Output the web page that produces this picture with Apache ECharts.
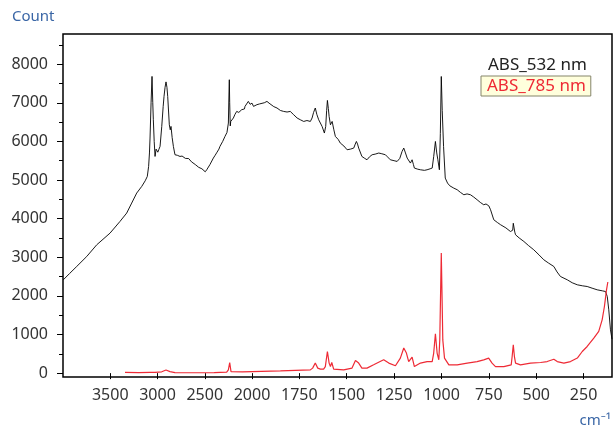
<!DOCTYPE html>
<html><head><meta charset="utf-8">
<script src="https://cdn.jsdelivr.net/npm/echarts@6/dist/echarts.min.js"></script>
<style>html,body{margin:0;padding:0;background:#fff}#c{width:613px;height:431px}</style>
</head><body><div id="c"></div>
<script>
const seriesNames = ['ABS_532 nm', 'ABS_785 nm'];
// [wavenumber cm-1, count]
const abs532 = [[3997,2416],[3930,2580],[3855,2761],[3749,3020],[3643,3323],[3502,3626],[3397,3927],[3326,4144],[3273,4403],[3220,4662],[3167,4833],[3130,4980],[3108,5092],[3094,5351],[3085,5700],[3079,6087],[3068,7000],[3058,7682],[3050,7000],[3044,6560],[3035,6000],[3026,5610],[3015,5800],[3008,5827],[2997,5720],[2987,5783],[2973,5870],[2955,6387],[2940,6900],[2931,7164],[2920,7400],[2910,7540],[2900,7400],[2892,7164],[2875,6430],[2865,6300],[2857,6387],[2845,6100],[2832,5870],[2815,5654],[2800,5690],[2790,5640],[2775,5660],[2762,5610],[2740,5620],[2720,5590],[2705,5560],[2690,5540],[2670,5555],[2656,5524],[2640,5470],[2620,5430],[2600,5400],[2586,5351],[2565,5330],[2550,5300],[2530,5290],[2515,5265],[2495,5213],[2479,5265],[2445,5400],[2409,5568],[2390,5640],[2370,5720],[2350,5800],[2339,5870],[2310,6000],[2286,6128],[2265,6230],[2257,6258],[2250,6475],[2244,7200],[2240,7596],[2236,7000],[2230,6400],[2225,6516],[2210,6560],[2197,6605],[2180,6700],[2170,6680],[2162,6776],[2150,6740],[2140,6750],[2125,6800],[2109,6820],[2090,6860],[2080,6840],[2074,6906],[2055,6950],[2039,7035],[2030,6990],[2020,6960],[2000,6990],[1992,6906],[1974,6950],[1960,6970],[1950,6990],[1935,7000],[1921,7035],[1910,6990],[1903,6950],[1885,6900],[1868,6864],[1850,6800],[1840,6820],[1833,6776],[1815,6760],[1798,6776],[1780,6690],[1770,6640],[1762,6605],[1745,6560],[1735,6580],[1727,6516],[1710,6540],[1692,6516],[1683,6605],[1675,6750],[1666,6864],[1658,6700],[1648,6560],[1630,6387],[1618,6216],[1611,6387],[1606,6800],[1602,7060],[1597,6850],[1593,6646],[1586,6430],[1577,6516],[1568,6300],[1560,6128],[1545,6050],[1534,5957],[1515,5880],[1498,5783],[1480,5800],[1463,5827],[1455,5930],[1449,5998],[1443,5930],[1437,5827],[1420,5610],[1405,5560],[1393,5524],[1380,5600],[1366,5654],[1350,5670],[1340,5640],[1331,5698],[1315,5680],[1296,5654],[1285,5600],[1270,5524],[1250,5500],[1234,5481],[1220,5560],[1208,5740],[1199,5827],[1190,5700],[1181,5568],[1164,5439],[1155,5524],[1148,5400],[1143,5309],[1125,5280],[1111,5265],[1090,5250],[1076,5265],[1060,5290],[1049,5309],[1041,5610],[1032,5998],[1025,5700],[1019,5524],[1011,5265],[1006,6200],[1001,7680],[996,6800],[989,5870],[980,5050],[968,4920],[956,4850],[935,4790],[917,4748],[900,4680],[882,4618],[865,4640],[847,4618],[830,4560],[812,4489],[795,4420],[777,4359],[765,4380],[759,4403],[750,4330],[741,4230],[724,3971],[705,3900],[688,3842],[660,3760],[636,3667],[624,3700],[621,3880],[618,3860],[613,3650],[609,3582],[590,3500],[565,3408],[540,3300],[513,3194],[485,3060],[460,2935],[435,2850],[407,2761],[390,2620],[372,2502],[336,2416],[310,2340],[283,2287],[255,2260],[231,2243],[205,2200],[178,2157],[150,2130],[134,2113],[125,1984],[117,1640],[108,1121],[100,880]];
const abs785 = [[3344,20],[3200,15],[3079,20],[3058,50],[3026,20],[2955,35],[2910,80],[2868,40],[2815,15],[2620,10],[2400,15],[2268,25],[2250,85],[2236,275],[2222,40],[2100,35],[2000,40],[1850,60],[1692,85],[1680,130],[1666,260],[1653,130],[1639,105],[1622,105],[1613,170],[1602,560],[1593,260],[1586,170],[1579,275],[1569,105],[1516,85],[1472,130],[1454,325],[1437,260],[1420,130],[1393,130],[1358,215],[1305,345],[1278,260],[1243,190],[1217,390],[1199,650],[1185,520],[1173,300],[1155,415],[1143,170],[1111,260],[1076,300],[1049,300],[1041,520],[1032,1020],[1023,520],[1014,345],[1009,860],[1001,3110],[993,860],[984,390],[961,215],[917,215],[864,260],[812,300],[777,345],[751,390],[733,260],[715,170],[671,170],[632,215],[627,430],[621,735],[615,430],[609,260],[583,215],[530,260],[477,275],[442,300],[407,360],[389,300],[354,260],[319,300],[283,390],[257,560],[231,690],[196,905],[170,1080],[152,1380],[140,1725],[129,2157],[122,2360]];
const xTicksHigh = [2500, 3000, 3500];
const xTicksLow = [250, 500, 750, 1000, 1250, 1500, 1750, 2000];
const yTicks = [0, 1000, 2000, 3000, 4000, 5000, 6000, 7000, 8000];
const yMinorTicks = [500, 1500, 2500, 3500, 4500, 5500, 6500, 7500, 8500];
const BREAK_AT = 2000;

const FONT = 'Noto Sans';
const Y_MIN = -100, Y_MAX = 8780;
const colors = ['#000000', '#ee2a35'];

const chart = echarts.init(document.getElementById('c'), null, {renderer: 'canvas'});
const labelStyle = {color: '#333', fontSize: 16, fontFamily: FONT, formatter: v => String(v)};
function xAxisFor(grid, min, max, ticks) {
  return {
    gridIndex: grid, type: 'value', min: min, max: max, inverse: true,
    axisLine: {show: false},
    axisTick: {show: true, customValues: ticks, length: 6, lineStyle: {color: '#000'}},
    axisLabel: Object.assign({customValues: ticks, margin: 10}, labelStyle),
    splitLine: {show: false}
  };
}
const seriesList = [];
[abs532, abs785].forEach((arr, i) => {
  const common = {name: seriesNames[i], type: 'line', showSymbol: false, symbol: 'none',
    lineStyle: {color: colors[i], width: i === 0 ? 0.9 : 1.2}, itemStyle: {color: colors[i]},
    animation: false, z: 3 + i};
  seriesList.push(Object.assign({}, common, {xAxisIndex: 0, yAxisIndex: 0, data: arr.filter(p => p[0] >= BREAK_AT)}));
  seriesList.push(Object.assign({}, common, {xAxisIndex: 1, yAxisIndex: 2, data: arr.filter(p => p[0] <= BREAK_AT)}));
});

chart.setOption({
  animation: false,
  backgroundColor: '#fff',
  grid: [
    {left: 63, top: 34, width: 189, bottom: 54},
    {left: 252, top: 34, right: 1, bottom: 54},
    {left: 63, top: 34, right: 1, bottom: 54, show: true, borderColor: '#000', borderWidth: 1.5, backgroundColor: 'transparent', z: 10}
  ],
  xAxis: [
    xAxisFor(0, BREAK_AT, 4000, xTicksHigh),
    xAxisFor(1, 100, BREAK_AT, xTicksLow),
    {gridIndex: 2, type: 'value', show: false, min: 0, max: 1}
  ],
  yAxis: [
    {gridIndex: 0, type: 'value', position: 'left', min: Y_MIN, max: Y_MAX,
      axisLine: {show: false},
      axisTick: {show: true, customValues: yTicks, length: 6, lineStyle: {color: '#000'}},
      axisLabel: Object.assign({customValues: yTicks, margin: 15}, labelStyle),
      splitLine: {show: false}},
    {gridIndex: 0, type: 'value', position: 'left', min: Y_MIN, max: Y_MAX,
      axisLine: {show: false},
      axisTick: {show: true, customValues: yMinorTicks, length: 4, lineStyle: {color: '#000'}},
      axisLabel: {show: false}, splitLine: {show: false}},
    {gridIndex: 1, type: 'value', show: false, min: Y_MIN, max: Y_MAX, splitLine: {show: false}},
    {gridIndex: 2, type: 'value', show: false, min: 0, max: 1}
  ],
  legend: [
    {data: [seriesNames[0]], left: 482, top: 54, icon: 'none', itemWidth: 0, itemHeight: 14,
      padding: [3, 5, 3, 1], selectedMode: false,
      textStyle: {color: '#222', fontSize: 17, fontFamily: FONT}},
    {data: [seriesNames[1]], left: 481, top: 76, icon: 'none', itemWidth: 0, itemHeight: 14,
      padding: [2, 5, 1, 1], selectedMode: false,
      backgroundColor: '#ffffdc', borderColor: '#85856a', borderWidth: 1,
      textStyle: {color: colors[1], fontSize: 17, fontFamily: FONT}}
  ],
  graphic: [
    {type: 'text', left: 12, top: 9, style: {text: 'Count', fill: '#3a66a6', font: '15px "Noto Sans"'}},
    {type: 'text', right: 2, top: 413, style: {text: 'cm\u207B\u00B9', fill: '#3a66a6', font: '15px "Noto Sans"'}}
  ],
  series: seriesList
});
</script></body></html>
